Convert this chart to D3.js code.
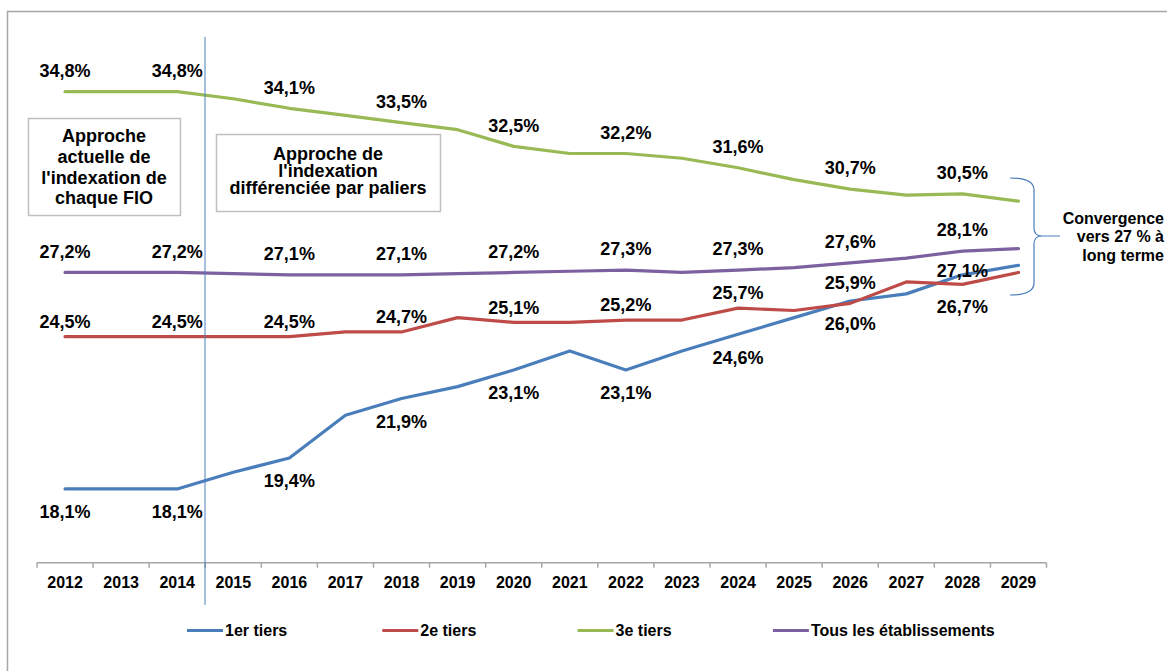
<!DOCTYPE html>
<html>
<head>
<meta charset="utf-8">
<script src="https://cdn.jsdelivr.net/npm/d3@7"></script>
<style>
  body { margin: 0; background: #fff; }
  text { font-family: "Liberation Sans", Arial, sans-serif; font-weight: bold; fill: #000; }
</style>
</head>
<body>
<div id="chart"></div>
<script>
var years = [2012, 2013, 2014, 2015, 2016, 2017, 2018, 2019, 2020, 2021, 2022, 2023, 2024, 2025, 2026, 2027, 2028, 2029];
var tier1 = [18.1, 18.1, 18.1, 18.8, 19.4, 21.2, 21.9, 22.4, 23.1, 23.9, 23.1, 23.9, 24.6, 25.3, 26.0, 26.3, 27.1, 27.5];
var tier2 = [24.5, 24.5, 24.5, 24.5, 24.5, 24.7, 24.7, 25.3, 25.1, 25.1, 25.2, 25.2, 25.7, 25.6, 25.9, 26.8, 26.7, 27.2];
var tier3 = [34.8, 34.8, 34.8, 34.5, 34.1, 33.8, 33.5, 33.2, 32.5, 32.2, 32.2, 32.0, 31.6, 31.1, 30.7, 30.45, 30.5, 30.2];
var allEtab = [27.2, 27.2, 27.2, 27.15, 27.1, 27.1, 27.1, 27.15, 27.2, 27.25, 27.3, 27.2, 27.3, 27.4, 27.6, 27.8, 28.1, 28.2];
var labelYears = [2012, 2014, 2016, 2018, 2020, 2022, 2024, 2026, 2028];
var seriesNames = ["1er tiers", "2e tiers", "3e tiers", "Tous les établissements"];
var box1Lines = ["Approche", "actuelle de", "l'indexation de", "chaque FIO"];
var box2Lines = ["Approche de", "l'indexation", "différenciée par paliers"];
var noteLines = ["Convergence", "vers 27 % à", "long terme"];

var series = [
  {name: seriesNames[0], values: tier1, color: "#4a7ebb", dy: 23},
  {name: seriesNames[1], values: tier2, color: "#be4b48", dy: -15},
  {name: seriesNames[2], values: tier3, color: "#98b954", dy: -21},
  {name: seriesNames[3], values: allEtab, color: "#7d60a0", dy: -21}
];

var W = 1167, H = 671;
var svg = d3.select("#chart").append("svg").attr("width", W).attr("height", H);

// outer frame
svg.append("rect").attr("x", 7.5).attr("y", 11.5).attr("width", 1200).attr("height", 700)
  .attr("fill", "none").attr("stroke", "#a6a6a6").attr("stroke-width", 1.5);

var x = d3.scaleBand().domain(years).range([37, 1046.5]).padding(0);
var y = d3.scaleLinear().domain([15, 37]).range([562.7, 39.3]);
var cx = function(yr){ return x(yr) + x.bandwidth() / 2; };

// axis
var axis = svg.append("g");
axis.append("line").attr("x1", x.range()[0]).attr("x2", x.range()[1])
  .attr("y1", y(15)).attr("y2", y(15)).attr("stroke", "#a6a6a6").attr("stroke-width", 1.5);
var edges = years.map(function(d){ return x(d); }).concat([x.range()[1]]);
axis.selectAll(".tk").data(edges).enter().append("line")
  .attr("x1", function(d){ return d; }).attr("x2", function(d){ return d; })
  .attr("y1", y(15)).attr("y2", y(15) + 5).attr("stroke", "#a6a6a6").attr("stroke-width", 1.5);
axis.selectAll(".lab").data(years).enter().append("text")
  .attr("x", cx).attr("y", 582).attr("dy", "0.35em")
  .attr("text-anchor", "middle").style("font-size", "16px")
  .text(function(d){ return d; });

// boxes
function box(x0, y0, w, h, lines, cxText, firstY, step) {
  svg.append("rect").attr("x", x0).attr("y", y0).attr("width", w).attr("height", h)
    .attr("fill", "#fff").attr("stroke", "#bfbfbf").attr("stroke-width", 1.5);
  svg.selectAll(null).data(lines).enter().append("text")
    .attr("x", cxText).attr("y", function(d, i){ return firstY + i * step; }).attr("dy", "0.35em")
    .attr("text-anchor", "middle").style("font-size", "18px")
    .text(function(d){ return d; });
}
box(28.5, 118.5, 152, 97, box1Lines, 104, 136, 20.7);
box(216.5, 134.5, 224, 77, box2Lines, 328, 154, 17);

// lines
var line = d3.line().x(function(d, i){ return cx(years[i]); }).y(function(d){ return y(d); });
series.forEach(function(s){
  svg.append("path").datum(s.values).attr("d", line)
    .attr("fill", "none").attr("stroke", s.color).attr("stroke-width", 3.2)
    .attr("stroke-linejoin", "round").attr("stroke-linecap", "round");
});

// vertical separator
svg.append("line").attr("x1", 205).attr("x2", 205).attr("y1", 37).attr("y2", 605)
  .attr("stroke", "#4a7ebb").attr("stroke-width", 1);

// data labels
function fmt(v){ return v.toFixed(1).replace(".", ",") + "%"; }
series.forEach(function(s, si){
  labelYears.forEach(function(yr){
    var i = years.indexOf(yr);
    var dy = s.dy;
    if (si === 1 && yr === 2026) dy = -21;
    if (si === 1 && yr === 2028) dy = 22;
    if (si === 0 && yr === 2028) dy = -4;
    svg.append("text").attr("x", cx(yr)).attr("y", y(s.values[i]) + dy).attr("dy", "0.35em")
      .attr("text-anchor", "middle").style("font-size", "18px")
      .text(fmt(s.values[i]));
  });
});

// brace + note
svg.append("path")
  .attr("d", "M1010,178 Q1034,178 1034,190 L1034,228 Q1034,236 1042,236 L1060,236 M1042,236 Q1034,236 1034,244 L1034,283 Q1034,295 1010,295")
  .attr("fill", "none").attr("stroke", "#4a7ebb").attr("stroke-width", 1.2);
svg.selectAll(null).data(noteLines).enter().append("text")
  .attr("x", 1164).attr("y", function(d, i){ return 218 + i * 18.5; }).attr("dy", "0.35em")
  .attr("text-anchor", "end").style("font-size", "16px")
  .text(function(d){ return d; });

// legend
var leg = svg.append("g");
series.forEach(function(s, i){
  var lx = 187 + i * 195.3;
  leg.append("line").attr("x1", lx).attr("x2", lx + 36).attr("y1", 630.5).attr("y2", 630.5)
    .attr("stroke", s.color).attr("stroke-width", 3.2);
  leg.append("text").attr("x", lx + 38).attr("y", 630.5).attr("dy", "0.35em")
    .style("font-size", "16px").text(s.name);
});
</script>
</body>
</html>
